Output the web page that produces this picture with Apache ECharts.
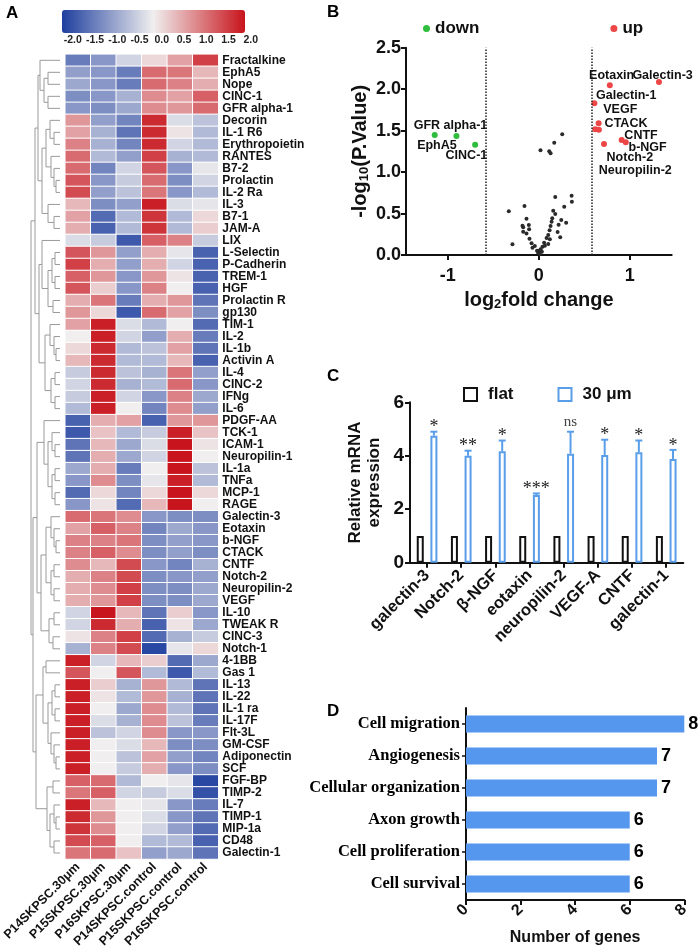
<!DOCTYPE html>
<html>
<head>
<meta charset="utf-8">
<title>SKPSC cytokine array</title>
<script src="https://cdn.jsdelivr.net/npm/echarts@6/dist/echarts.min.js"></script>
<style>
  html, body { margin: 0; padding: 0; background: #fff; }
  #main { width: 700px; height: 952px; }
</style>
</head>
<body>
<div id="main"></div>
<script>
// ---------- A: heatmap ----------
var colNames = ['P14SKPSC.30μm', 'P15SKPSC.30μm', 'P16SKPSC.30μm', 'P14SKPSC.control', 'P15SKPSC.control', 'P16SKPSC.control'];
var rowNames = ['Fractalkine', 'EphA5', 'Nope', 'CINC-1', 'GFR alpha-1', 'Decorin', 'IL-1 R6', 'Erythropoietin',
  'RANTES', 'B7-2', 'Prolactin', 'IL-2 Ra', 'IL-3', 'B7-1', 'JAM-A', 'LIX', 'L-Selectin', 'P-Cadherin', 'TREM-1',
  'HGF', 'Prolactin R', 'gp130', 'TIM-1', 'IL-2', 'IL-1b', 'Activin A', 'IL-4', 'CINC-2', 'IFNg', 'IL-6',
  'PDGF-AA', 'TCK-1', 'ICAM-1', 'Neuropilin-1', 'IL-1a', 'TNFa', 'MCP-1', 'RAGE', 'Galectin-3', 'Eotaxin',
  'b-NGF', 'CTACK', 'CNTF', 'Notch-2', 'Neuropilin-2', 'VEGF', 'IL-10', 'TWEAK R', 'CINC-3', 'Notch-1',
  '4-1BB', 'Gas 1', 'IL-13', 'IL-22', 'IL-1 ra', 'IL-17F', 'Flt-3L', 'GM-CSF', 'Adiponectin', 'SCF',
  'FGF-BP', 'TIMP-2', 'IL-7', 'TIMP-1', 'MIP-1a', 'CD48', 'Galectin-1'];
var heatValues = [
  [-1.3, -1.0, -0.3, 0.2, 0.7, 1.6],
  [-0.9, -1.0, -1.3, 1.2, 1.1, 0.5],
  [-0.8, -1.0, -1.3, 1.2, 1.0, 0.6],
  [-1.1, -1.0, -0.7, 0.9, 0.7, 1.3],
  [-1.0, -1.1, -0.8, 0.9, 0.8, 1.2],
  [0.8, -0.9, -1.2, 1.8, -0.2, -0.5],
  [0.7, -0.7, -1.4, 1.8, 0.1, -0.6],
  [1.0, -0.7, -1.2, 1.8, -0.3, -0.6],
  [1.2, -0.6, -0.9, 1.6, -0.7, -0.6],
  [1.2, -1.2, -0.3, 1.4, -1.0, -0.1],
  [1.4, -1.0, -0.4, 1.2, -1.1, -0.3],
  [1.5, -0.9, -0.5, 1.1, -1.0, -0.6],
  [0.5, -1.1, -0.9, 1.9, -0.2, -0.1],
  [0.7, -1.5, -0.6, 1.7, -0.6, 0.2],
  [0.6, -1.6, -0.6, 1.7, -0.6, 0.3],
  [-0.2, -0.4, -1.7, 1.3, 1.0, -0.4],
  [1.4, 0.8, -0.9, 0.6, -0.1, -1.6],
  [1.6, 0.6, -0.9, 0.6, -0.3, -1.6],
  [1.3, 0.8, -1.0, 0.8, 0.1, -1.6],
  [1.4, 0.3, -1.0, 1.0, 0.0, -1.6],
  [0.6, 1.1, -1.3, 0.6, 0.8, -1.4],
  [0.8, 0.2, -1.7, 1.2, 0.7, -1.1],
  [0.7, 1.9, -0.2, -0.6, 0.0, -1.5],
  [0.0, 1.9, -0.3, -0.9, 0.6, -1.3],
  [0.2, 1.8, -0.6, -0.5, 0.7, -1.4],
  [0.5, 1.8, -0.6, -0.6, 0.5, -1.6],
  [-0.4, 1.8, -0.5, -0.7, 1.1, -0.9],
  [-0.3, 1.8, -0.7, -0.6, 1.2, -1.0],
  [-0.4, 1.9, -0.3, -1.0, 1.0, -0.8],
  [-0.6, 1.9, 0.0, -1.2, 0.9, -0.9],
  [-1.6, 0.6, 0.7, -1.6, 0.8, 0.8],
  [-1.7, 0.4, -0.6, -0.4, 1.9, 0.4],
  [-1.4, 0.5, -0.8, -0.2, 2.0, 0.1],
  [-1.4, 0.6, -0.8, -0.3, 2.0, 0.0],
  [-0.8, 0.6, -1.3, 0.0, 2.0, -0.5],
  [-1.0, 0.9, -1.1, -0.1, 1.9, -0.6],
  [-1.5, 0.2, -1.2, 0.2, 2.0, 0.2],
  [-1.0, 0.1, -1.5, 0.5, 2.0, 0.0],
  [1.2, 1.1, 0.9, -1.0, -1.1, -1.1],
  [0.7, 1.3, 1.0, -1.2, -0.8, -1.0],
  [1.0, 1.0, 1.1, -1.1, -0.9, -1.0],
  [1.0, 1.3, 0.9, -1.1, -0.9, -1.1],
  [0.9, 0.5, 1.5, -1.0, -1.2, -0.7],
  [0.6, 1.0, 1.5, -1.1, -1.0, -0.9],
  [0.6, 0.9, 1.6, -1.1, -1.1, -0.8],
  [0.6, 0.8, 1.6, -1.1, -1.1, -0.8],
  [-0.3, 2.0, 0.5, -1.4, 0.3, -1.0],
  [-0.3, 1.8, 0.6, -1.6, 0.1, -0.8],
  [0.1, 1.0, 1.6, -1.5, -0.7, -0.4],
  [-0.7, 1.0, 1.5, -1.9, -0.1, 0.2],
  [1.9, -0.3, 0.5, 0.3, -1.5, -0.8],
  [1.4, 0.0, 1.4, -0.6, -1.7, -0.6],
  [1.9, 0.3, -0.7, 0.8, -0.6, -1.4],
  [1.9, 0.1, -0.6, 0.8, -0.7, -1.4],
  [1.9, 0.0, -0.8, 0.9, -0.6, -1.4],
  [1.9, -0.2, -0.7, 0.9, -0.5, -1.3],
  [1.9, -0.5, -0.3, 0.9, -1.0, -1.0],
  [1.9, 0.0, -0.2, 0.5, -1.1, -1.1],
  [1.9, 0.0, -0.5, 0.7, -0.9, -1.2],
  [1.9, 0.0, -0.4, 0.6, -1.0, -1.1],
  [1.3, 1.2, -0.6, 0.0, -0.1, -1.9],
  [1.1, 1.3, -0.3, -0.4, -0.2, -1.8],
  [1.9, 0.5, 0.0, -0.1, -1.0, -1.3],
  [1.8, 0.8, 0.0, -0.2, -1.0, -1.4],
  [1.7, 0.9, 0.0, -0.3, -0.9, -1.5],
  [1.5, 1.3, 0.0, -0.6, -0.6, -1.6],
  [1.1, 1.2, 0.4, -0.9, -0.8, -1.4]
];
// row clustering: [height, left, right], leaves are row indexes
var dendroTree = [29,
  [25,
    [22, [20, 0, [16, [12, 1, 2], [12, 3, 4]]],
         [18, [14, [10, 5, [6, 6, 7]], [9, 8, [6, 9, [4, 10, 11]]]], [12, 12, [6, 13, 14]]]],
    [21, [18, 15, [12, [8, [5, 16, 17], [5, 18, 19]], [7, 20, 21]]],
         [15, [10, 22, [6, 23, [4, 24, 25]]], [9, [5, 26, 27], [5, 28, 29]]]]],
  [27,
    [23, [16, 30, [12, [8, 31, [5, 32, 33]], [8, [5, 34, 35], [5, 36, 37]]]],
         [19, [14, [9, 38, [6, 39, [4, 40, 41]]], [9, [6, 42, 43], [6, 44, 45]]], [11, [6, 46, 47], [7, 48, 49]]]],
    [24, [17, [14, 50, 51], [12, [8, [5, 52, 53], [5, 54, 55]], [9, 56, [6, 57, [4, 58, 59]]]]],
         [13, [7, 60, 61], [10, [6, 62, [4, 63, 64]], [6, 65, 66]]]]]];

// ---------- B: volcano ----------
var downPts = [[-1.145, 1.446], [-0.906, 1.435], [-0.70, 1.33]];
var upPts = [[1.32, 2.087], [0.78, 2.047], [0.61, 1.83], [0.657, 1.59], [0.62, 1.516], [0.66, 1.51],
  [0.716, 1.34], [0.91, 1.387], [0.955, 1.36]];
var nsPts = [[0.257, 1.456], [0.169, 1.355], [0.018, 1.263], [0.114, 1.25], [0.129, 1.227], [0.18, 0.70],
  [0.36, 0.715], [0.363, 0.643], [-0.33, 0.527], [-0.158, 0.591], [0.279, 0.583], [0.158, 0.535],
  [0.18, 0.494], [0.147, 0.442], [0.14, 0.40], [0.246, 0.422], [0.30, 0.39], [0.217, 0.366],
  [-0.136, 0.438], [-0.18, 0.354], [-0.172, 0.334], [-0.11, 0.362], [-0.107, 0.31], [0.129, 0.35],
  [0.118, 0.298], [-0.172, 0.281], [-0.136, 0.26], [0.206, 0.277], [0.235, 0.213], [-0.103, 0.197],
  [0.103, 0.241], [0.085, 0.205], [-0.29, 0.129], [-0.08, 0.141], [-0.07, 0.088], [0.121, 0.189],
  [0.103, 0.133], [0.058, 0.149], [0.066, 0.112], [0.04, 0.1], [-0.044, 0.109], [0.004, 0.052],
  [0.033, 0.04], [-0.008, 0.028], [0.019, 0.069], [0.01, 0.012], [-0.02, 0.05]];
var volcanoLabels = [['Eotaxin', 0.80, 2.17], ['Galectin-3', 1.36, 2.17], ['Galectin-1', 0.96, 1.92],
  ['VEGF', 0.895, 1.75], ['CTACK', 0.958, 1.58], ['CNTF', 1.123, 1.435], ['b-NGF', 1.195, 1.30],
  ['Notch-2', 1.0, 1.17], ['Neuropilin-2', 1.06, 1.017], ['GFR alpha-1', -0.971, 1.565],
  ['EphA5', -1.12, 1.315], ['CINC-1', -0.796, 1.194]];
var foldCut = 0.585;

// ---------- C: qPCR ----------
var mrnaGenes = ['galectin-3', 'Notch-2', 'β-NGF', 'eotaxin', 'neuropilin-2', 'VEGF-A', 'CNTF', 'galectin-1'];
var flatVals = [1, 1, 1, 1, 1, 1, 1, 1];
var umVals = [4.75, 4.0, 4.17, 2.53, 4.08, 4.03, 4.13, 3.88];
var umErrTop = [4.9, 4.19, 4.57, 2.59, 4.9, 4.6, 4.57, 4.22];
var umSig = ['*', '**', '*', '***', 'ns', '*', '*', '*'];

// ---------- D: GO terms ----------
var goTerms = ['Cell migration', 'Angiogenesis', 'Cellular organization', 'Axon growth', 'Cell proliferation', 'Cell survival'];
var goCounts = [8, 7, 7, 6, 6, 6];

var SANS = '"Liberation Sans", Arial, sans-serif';
var SERIF = '"Liberation Serif", "Times New Roman", serif';
var BLUE = '#5a9de8';

var heatData = [];
heatValues.forEach(function (row, r) {
  row.forEach(function (v, c) { heatData.push([c, r, v]); });
});

// dendrogram segments: [h, yLeft, hLeft, yRight, hRight]
var dendroSegs = [];
function walk(node) {
  if (typeof node === 'number') return { y: node + 0.5, h: 0 };
  var a = walk(node[1]), b = walk(node[2]);
  dendroSegs.push([node[0], a.y, a.h, b.y, b.h]);
  return { y: (a.y + b.y) / 2, h: node[0] };
}
walk(dendroTree);

function boldTxt(size, extra) {
  var o = { fontFamily: SANS, fontWeight: 'bold', fontSize: size, color: '#111' };
  for (var k in extra) o[k] = extra[k];
  return o;
}
var axisBlack = { show: true, onZero: false, lineStyle: { color: '#111', width: 2 } };
var tickBlack = { show: true, length: 5, lineStyle: { color: '#111', width: 2 } };

var chart = echarts.init(document.getElementById('main'));
chart.setOption({
  animation: false,
  grid: [
    { left: 60, top: 54.3, width: 158.3, height: 804.7 },
    { left: 31, top: 54.3, width: 29, height: 804.7 },
    { left: 72.7, top: 33, width: 178, height: 1 },
    { left: 406, top: 47.7, width: 265.7, height: 207.3 },
    { left: 410, top: 402.3, width: 273.3, height: 160.4 },
    { left: 466, top: 708, width: 218.3, height: 192 }
  ],
  visualMap: [{
    type: 'continuous', seriesIndex: 0, min: -2, max: 2, orient: 'horizontal',
    left: 62, top: 10, itemWidth: 23, itemHeight: 183, padding: 0,
    calculable: false, hoverLink: false,
    inRange: { color: ['#1f3f9f', '#f0eeee', '#c8141c'] }
  }],
  legend: [
    {
      data: ['down', 'up'], left: 418, top: 15, itemGap: 131, itemWidth: 7, itemHeight: 7,
      selectedMode: false, textStyle: boldTxt(17)
    },
    {
      data: ['flat', '30 μm'], left: 458, top: 381, itemGap: 44, itemWidth: 13, itemHeight: 13,
      icon: 'rect', selectedMode: false, textStyle: boldTxt(17, { padding: [0, 0, 0, 6] })
    }
  ],
  xAxis: [
    {
      gridIndex: 0, type: 'category', data: colNames, axisLine: { show: false }, axisTick: { show: false },
      axisLabel: boldTxt(12.5, { rotate: 45, interval: 0, margin: 6 })
    },
    { gridIndex: 1, type: 'value', min: 0, max: 29, inverse: true, show: false },
    {
      gridIndex: 2, type: 'value', min: -2, max: 2, interval: 0.5,
      axisLine: { show: false }, axisTick: { show: false }, splitLine: { show: false },
      axisLabel: boldTxt(10.5, { margin: 1, color: '#222', formatter: function (v) { return v.toFixed(1); } })
    },
    {
      gridIndex: 3, type: 'value', min: -1.46, max: 1.46, splitLine: { show: false },
      axisLine: axisBlack,
      axisTick: { show: true, length: 5, lineStyle: { color: '#111', width: 2 }, customValues: [-1, 0, 1] },
      axisLabel: boldTxt(18, { margin: 12, customValues: [-1, 0, 1] }),
      name: 'log{s|2}fold change', nameLocation: 'middle', nameGap: 34,
      nameTextStyle: boldTxt(20, { rich: { s: boldTxt(13, { padding: [9, 0, 0, 0] }) } })
    },
    {
      gridIndex: 4, type: 'category', data: mrnaGenes, axisLine: axisBlack,
      axisTick: { show: true, alignWithLabel: true, length: 5, lineStyle: { color: '#111', width: 2 } },
      axisLabel: boldTxt(16.5, { rotate: 45, interval: 0, margin: 10 })
    },
    {
      gridIndex: 5, type: 'value', min: 0, max: 8, interval: 2, splitLine: { show: false },
      axisLine: axisBlack, axisTick: tickBlack,
      axisLabel: boldTxt(16, { rotate: 45, margin: 7 }),
      name: 'Number of genes', nameLocation: 'middle', nameGap: 30, nameTextStyle: boldTxt(16)
    }
  ],
  yAxis: [
    {
      gridIndex: 0, type: 'category', data: rowNames, inverse: true, position: 'right',
      axisLine: { show: false }, axisTick: { show: false },
      axisLabel: boldTxt(12, { interval: 0, margin: 4 })
    },
    { gridIndex: 1, type: 'value', min: 0, max: 67, inverse: true, show: false },
    { gridIndex: 2, type: 'value', show: false },
    {
      gridIndex: 3, type: 'value', min: 0, max: 2.5, interval: 0.5, splitLine: { show: false },
      axisLine: axisBlack, axisTick: tickBlack,
      axisLabel: boldTxt(18, { margin: 5, formatter: function (v) { return v.toFixed(1); } }),
      name: '-log{s|10}(P.Value)', nameLocation: 'middle', nameGap: 35,
      nameTextStyle: boldTxt(20, { rich: { s: boldTxt(13, { padding: [9, 0, 0, 0] }) } })
    },
    {
      gridIndex: 4, type: 'value', min: 0, max: 6, interval: 2, splitLine: { show: false },
      axisLine: axisBlack, axisTick: tickBlack,
      axisLabel: boldTxt(19, { margin: 6 }),
      name: 'Relative mRNA\nexpression', nameLocation: 'middle', nameGap: 26,
      nameTextStyle: boldTxt(17, { lineHeight: 19 })
    },
    {
      gridIndex: 5, type: 'category', data: goTerms, inverse: true, axisLine: axisBlack,
      axisTick: { show: true, alignWithLabel: true, length: 4, lineStyle: { color: '#111', width: 1.5 } },
      axisLabel: { fontFamily: SERIF, fontWeight: 'bold', fontSize: 16.5, color: '#000', margin: 6 }
    }
  ],
  graphic: [
    { type: 'text', left: 6, top: 5, style: { text: 'A', font: 'bold 17px ' + SANS, fill: '#000' } },
    { type: 'text', left: 327, top: 4, style: { text: 'B', font: 'bold 17px ' + SANS, fill: '#000' } },
    { type: 'text', left: 327, top: 368, style: { text: 'C', font: 'bold 17px ' + SANS, fill: '#000' } },
    { type: 'text', left: 327, top: 703, style: { text: 'D', font: 'bold 17px ' + SANS, fill: '#000' } }
  ],
  series: [
    {
      type: 'heatmap', xAxisIndex: 0, yAxisIndex: 0, data: heatData,
      itemStyle: { borderColor: '#fff', borderWidth: 1 }, emphasis: { disabled: true }
    },
    {
      type: 'custom', xAxisIndex: 1, yAxisIndex: 1, data: dendroSegs, silent: true,
      encode: { x: 0, y: 1 },
      renderItem: function (params, api) {
        var h = api.value(0), yl = api.value(1), hl = api.value(2), yr = api.value(3), hr = api.value(4);
        return {
          type: 'polyline',
          shape: { points: [api.coord([hl, yl]), api.coord([h, yl]), api.coord([h, yr]), api.coord([hr, yr])] },
          style: { stroke: '#9a9a9a', lineWidth: 1, fill: null }
        };
      }
    },
    {
      name: 'none', type: 'scatter', xAxisIndex: 3, yAxisIndex: 3, data: nsPts, symbolSize: 4,
      itemStyle: { color: '#2a2a2a', opacity: 1 }, silent: true,
      markLine: {
        silent: true, symbol: ['none', 'none'], label: { show: false },
        lineStyle: { type: 'dotted', color: '#222', width: 1.5 },
        data: [{ xAxis: -foldCut }, { xAxis: foldCut }]
      }
    },
    {
      name: 'down', type: 'scatter', xAxisIndex: 3, yAxisIndex: 3, data: downPts, symbolSize: 6,
      itemStyle: { color: '#2ebd3c', opacity: 1 }
    },
    {
      name: 'up', type: 'scatter', xAxisIndex: 3, yAxisIndex: 3, data: upPts, symbolSize: 6,
      itemStyle: { color: '#ec4646', opacity: 1 }
    },
    {
      type: 'scatter', xAxisIndex: 3, yAxisIndex: 3, symbolSize: 1, silent: true, z: 4,
      itemStyle: { color: 'transparent', opacity: 1 },
      data: volcanoLabels.map(function (l) { return { name: l[0], value: [l[1], l[2]] }; }),
      label: boldTxt(12.5, { show: true, position: 'inside', formatter: '{b}', color: '#111' })
    },
    {
      name: 'flat', type: 'bar', xAxisIndex: 4, yAxisIndex: 4, data: flatVals, barWidth: 7, barGap: '95%',
      itemStyle: { color: '#fff', borderColor: '#111', borderWidth: 2 }
    },
    {
      name: '30 μm', type: 'bar', xAxisIndex: 4, yAxisIndex: 4, data: umVals, barWidth: 7, barGap: '95%',
      itemStyle: { color: '#fff', borderColor: BLUE, borderWidth: 2 }
    },
    {
      type: 'custom', xAxisIndex: 4, yAxisIndex: 4, silent: true, z: 5,
      data: umVals.map(function (v, i) { return [i, v, umErrTop[i]]; }),
      renderItem: function (params, api) {
        var i = api.value(0);
        var base = api.coord([i, api.value(1)]);
        var top = api.coord([i, api.value(2)]);
        var x = base[0] + 6.8;
        var sig = umSig[params.dataIndex];
        var isNs = sig === 'ns';
        return {
          type: 'group',
          children: [
            { type: 'line', shape: { x1: x, y1: base[1], x2: x, y2: top[1] }, style: { stroke: BLUE, lineWidth: 2 } },
            { type: 'line', shape: { x1: x - 3.5, y1: top[1], x2: x + 3.5, y2: top[1] }, style: { stroke: BLUE, lineWidth: 2 } },
            {
              type: 'text', x: x, y: top[1] - (isNs ? 10 : 4),
              style: {
                text: sig, align: 'center', verticalAlign: 'middle',
                font: (isNs ? '15px ' : '18px ') + SERIF, fill: isNs ? '#444' : '#222'
              }
            }
          ]
        };
      }
    },
    {
      type: 'bar', xAxisIndex: 5, yAxisIndex: 5, data: goCounts, barWidth: 17,
      itemStyle: { color: '#5597ee' },
      label: boldTxt(18, { show: true, position: 'right', distance: 4, color: '#000' })
    }
  ]
});
</script>
</body>
</html>
